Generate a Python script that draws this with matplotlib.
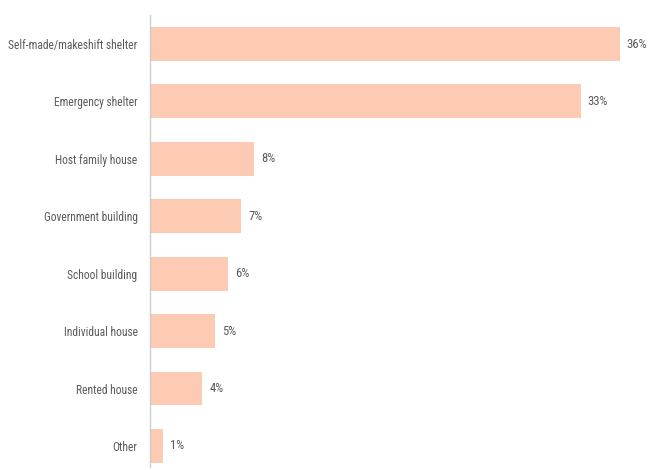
import matplotlib
matplotlib.use("Agg")
import matplotlib.pyplot as plt

categories = [
    "Self-made/makeshift shelter",
    "Emergency shelter",
    "Host family house",
    "Government building",
    "School building",
    "Individual house",
    "Rented house",
    "Other",
]
shares = [36, 33, 8, 7, 6, 5, 4, 1]

bar_color = "#fdcab4"
text_color = "#5a5a5a"
plt.rcParams["font.family"] = ["Roboto Condensed", "DejaVu Sans"]

fig = plt.figure(figsize=(6.51, 4.70), dpi=100)
ax = fig.add_axes([150 / 651, 3 / 470, 501 / 651, 452 / 470])

pos = list(range(len(categories)))
ax.barh(pos, shares, height=0.59, color=bar_color)

# percentage next to each bar
for y, v in zip(pos, shares):
    ax.annotate(f"{v}%", (v, y), xytext=(5, 0), textcoords="offset points",
                va="center", ha="left", fontsize=9.1, color=text_color)

ax.set_xlim(0, 501 / 13.05)
ax.set_ylim(len(categories) - 1 + 0.366, -0.505)
ax.set_yticks(pos)
ax.set_yticklabels(categories, fontsize=8.3, color=text_color)
ax.tick_params(axis="y", length=0, pad=9)
ax.set_xticks([])

for side in ["top", "right", "bottom"]:
    ax.spines[side].set_visible(False)
ax.spines["left"].set_color("#cccccc")
ax.spines["left"].set_linewidth(1)

fig.savefig("out.png", dpi=100)
